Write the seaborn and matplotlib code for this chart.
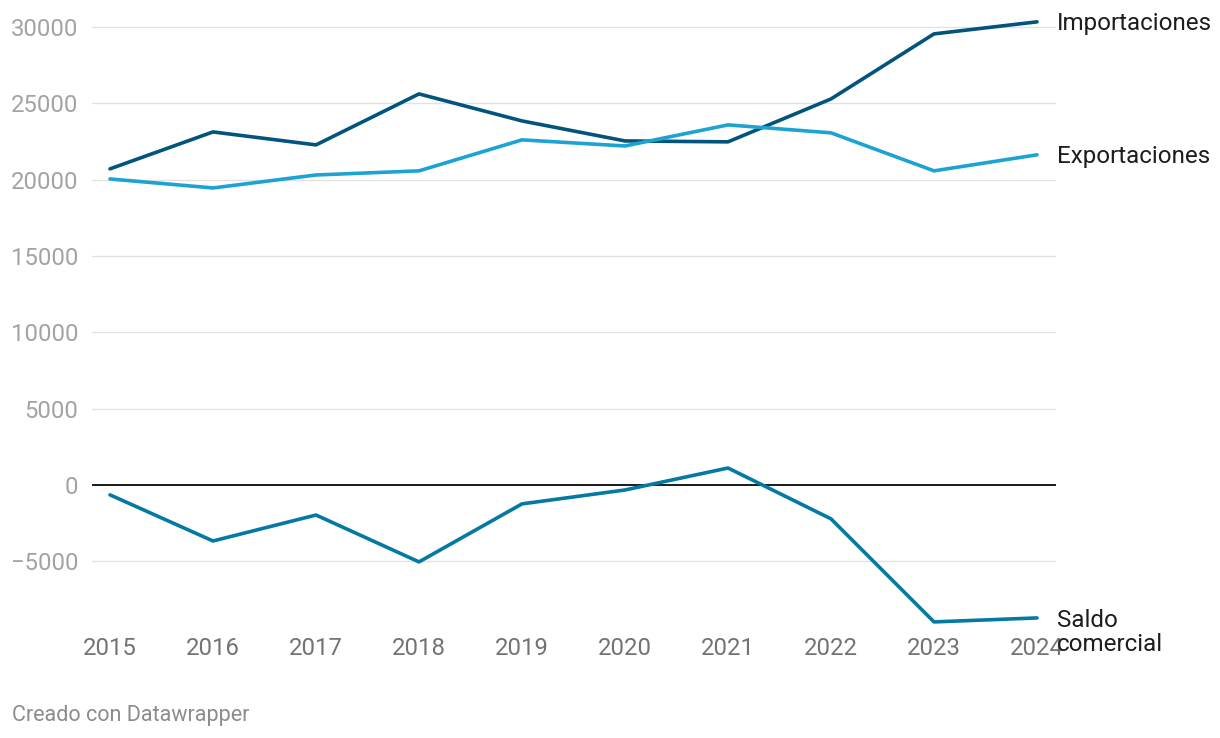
import matplotlib
matplotlib.use("Agg")
import matplotlib.pyplot as plt
import seaborn as sns
import pandas as pd

years = [2015, 2016, 2017, 2018, 2019, 2020, 2021, 2022, 2023, 2024]
importaciones = [20700, 23120, 22270, 25610, 23840, 22530, 22470, 25280, 29540, 30330]
exportaciones = [20040, 19450, 20300, 20570, 22600, 22200, 23580, 23060, 20570, 21620]
saldo = [-650, -3670, -1970, -5040, -1240, -330, 1110, -2220, -8970, -8710]
series_names = ["Importaciones", "Exportaciones", "Saldo comercial"]
end_labels = ["Importaciones", "Exportaciones", "Saldo\ncomercial"]
y_ticks = [-5000, 0, 5000, 10000, 15000, 20000, 25000, 30000]
y_tick_labels = ["\u22125000", "0", "5000", "10000", "15000", "20000", "25000", "30000"]
colors = {"Importaciones": "#03547c", "Exportaciones": "#1ca3d2", "Saldo comercial": "#0479a2"}

df = pd.DataFrame({
    "year": years * 3,
    "value": importaciones + exportaciones + saldo,
    "serie": [series_names[0]] * 10 + [series_names[1]] * 10 + [series_names[2]] * 10,
})

sns.set_theme(style="white")
plt.rcParams["font.family"] = ["Roboto", "DejaVu Sans"]

fig = plt.figure(figsize=(12.2, 7.38), dpi=100)
ax = fig.add_axes([92 / 1220, 1 - 630 / 738, 964 / 1220, 610 / 738])

for yt in y_ticks:
    if yt == 0:
        continue
    ax.axhline(yt, color="#e2e2e2", lw=1.0, zorder=0)
ax.axhline(0, color="#1a1a1a", lw=1.4, zorder=1)

sns.lineplot(data=df, x="year", y="value", hue="serie", palette=colors,
             linewidth=2.6, legend=False, ax=ax, zorder=3)

ax.set_xlim(2015 - 18 / 103, 2024 + 19 / 103)
ax.set_ylim(-9500, 30450)
ax.set_xticks(years)
ax.set_xticklabels([str(y) for y in years], color="#737373", fontsize=17.2)
ax.set_yticks(y_ticks)
ax.set_yticklabels(y_tick_labels, color="#a3a3a3", fontsize=17.2)
ax.tick_params(axis="x", length=0, pad=5)
ax.tick_params(axis="y", length=0, pad=10)
ax.set_xlabel("")
ax.set_ylabel("")
for s in ax.spines.values():
    s.set_visible(False)

ends = [importaciones[-1], exportaciones[-1], saldo[-1]]
offsets = [-1, -1, -10.5]
spacings = [1.2, 1.2, 1.08]
for lab, v, off, ls in zip(end_labels, ends, offsets, spacings):
    ax.annotate(lab, xy=(years[-1], v), xytext=(14.5, off), textcoords="offset points",
                ha="left", va="center", fontsize=17.4, color="#1d1d1d",
                linespacing=ls, annotation_clip=False)

fig.text(12 / 1220, 1 - 715 / 738, "Creado con Datawrapper", fontsize=15.5,
         color="#8c8c8c", ha="left", va="center")

fig.savefig("out.png", dpi=100)
